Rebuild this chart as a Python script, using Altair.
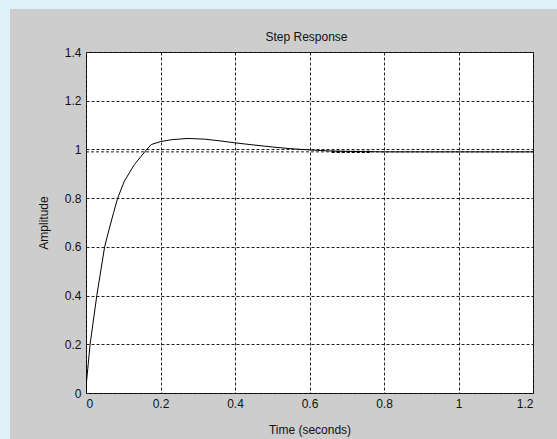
import altair as alt
import pandas as pd

# Step response samples (time in seconds, amplitude)
time_s = [0, 0.001, 0.011, 0.029, 0.05, 0.062, 0.074, 0.085, 0.103, 0.13, 0.161, 0.175,
          0.2, 0.23, 0.274, 0.32, 0.36, 0.395, 0.44, 0.5, 0.55, 0.6, 0.65, 0.7, 0.75,
          0.8, 1.2]
amplitude = [0, 0.04, 0.2, 0.4, 0.6, 0.672, 0.74, 0.8, 0.87, 0.938, 0.996, 1.02,
             1.032, 1.04, 1.045, 1.042, 1.035, 1.028, 1.02, 1.01, 1.003, 0.998, 0.994,
             0.992, 0.991, 0.99, 0.99]
steady_value = [0.99]
settle_start = [0.66]
settle_end = [0.765]
title_text = ["Step Response"]

x_ticks = [0, 0.2, 0.4, 0.6, 0.8, 1, 1.2]
y_ticks = [0, 0.2, 0.4, 0.6, 0.8, 1, 1.2, 1.4]

FONT = "Liberation Sans"
W, H = 447, 341
PAD_L, PAD_T = 86, 52
BLUE = "#dff1f9"

df = pd.DataFrame({"t": time_s, "a": amplitude})
ss = pd.DataFrame({"y": steady_value})
st = pd.DataFrame({"x": settle_start, "x2": settle_end, "y": steady_value})

xscale = alt.Scale(domain=[0, 1.2], nice=False, zero=False)
yscale = alt.Scale(domain=[0, 1.4], nice=False, zero=False)

grid_axis = dict(grid=True, gridColor="#222222", gridDash=[3, 2], gridWidth=1,
                 domain=False, ticks=False, labelFont=FONT, labelFontSize=12,
                 labelColor="#111111", titleFont=FONT, titleFontSize=12,
                 titleFontWeight="normal", titleColor="#111111")

one = pd.DataFrame({"d": [0]})
# light-blue frame strips (left and top) outside the gray figure area
blue_left = alt.Chart(one).mark_rect(color=BLUE, clip=False).encode(
    x=alt.value(-PAD_L), x2=alt.value(10 - PAD_L),
    y=alt.value(-PAD_T), y2=alt.value(439 - PAD_T))
blue_top = alt.Chart(one).mark_rect(color=BLUE, clip=False).encode(
    x=alt.value(-PAD_L), x2=alt.value(557 - PAD_L),
    y=alt.value(-PAD_T), y2=alt.value(9 - PAD_T))

title = alt.Chart(pd.DataFrame({"label": title_text})).mark_text(
    font=FONT, fontSize=12, color="#111111", align="center", baseline="middle",
    clip=False).encode(text="label:N", x=alt.value(W / 2 - 3), y=alt.value(-15))

line = alt.Chart(df).mark_line(color="#000000", strokeWidth=1, clip=True).encode(
    x=alt.X("t:Q", scale=xscale,
            axis=alt.Axis(values=x_ticks, labelPadding=5, title="Time (seconds)",
                          titleY=36, titleBaseline="middle",
                          labelExpr="datum.value == 0 ? '0' : format(datum.value, '~g')",
                          **grid_axis)),
    y=alt.Y("a:Q", scale=yscale,
            axis=alt.Axis(values=y_ticks, labelPadding=5, title="Amplitude",
                          titleX=-43, titleY=H / 2, titleAngle=-90,
                          titleAlign="center", titleBaseline="middle",
                          labelExpr="format(datum.value, '~g')",
                          **grid_axis)),
    order="t:Q",
)

ss_line = alt.Chart(ss).mark_rule(color="#222222", strokeDash=[3, 2], strokeWidth=1).encode(
    y=alt.Y("y:Q", scale=yscale), x=alt.value(0), x2=alt.value(W))

settle = alt.Chart(st).mark_rule(color="#000000", strokeDash=[3, 2], strokeWidth=2.2).encode(
    x=alt.X("x:Q", scale=xscale), x2="x2:Q", y=alt.Y("y:Q", scale=yscale))

chart = alt.layer(blue_left, blue_top, title, ss_line, line, settle).properties(
    width=W, height=H,
    background="#cdcdcd",
    padding={"left": PAD_L, "top": PAD_T, "right": 557 - PAD_L - W, "bottom": 439 - PAD_T - H},
    autosize=alt.AutoSizeParams(type="none"),
).configure_view(stroke="#000000", strokeWidth=1, fill="white")

chart.save("out.html", embed_options={"renderer": "svg", "actions": False})
